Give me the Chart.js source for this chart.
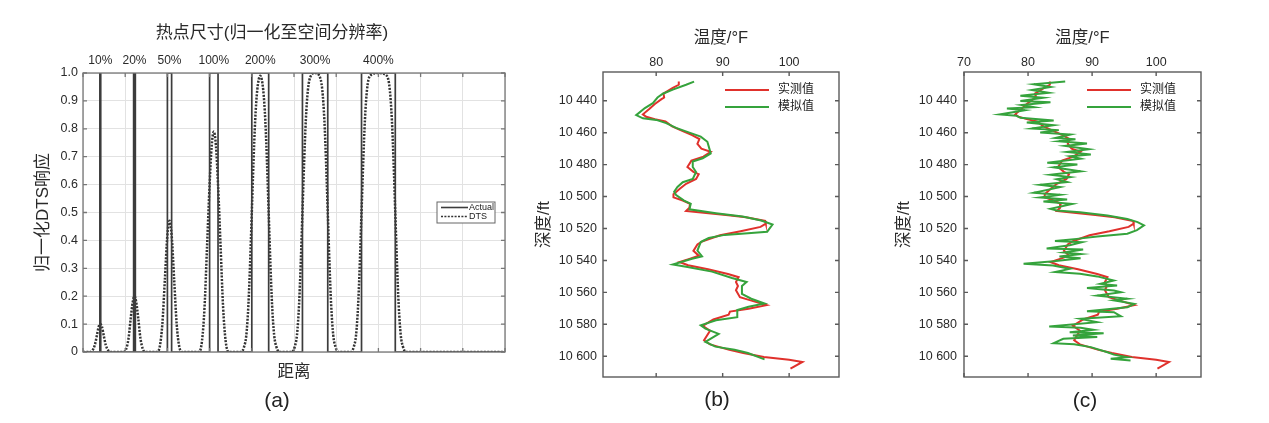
<!DOCTYPE html>
<html>
<head>
<meta charset="utf-8">
<script src="https://cdn.jsdelivr.net/npm/chart.js@4.4.1/dist/chart.umd.min.js"></script>
<style>
  html, body { margin: 0; padding: 0; background: #fff; }
  #page { position: relative; width: 1269px; height: 423px; overflow: hidden; }
  .panel { position: absolute; top: 0; }
  .tag { position: absolute; transform: translate(-50%, -50%); font: 21px "Liberation Sans", "Noto Sans CJK SC", sans-serif; color: #222; }
</style>
</head>
<body>
<div id="page">
  <div class="panel" style="left:0px"><canvas id="chartA" width="544" height="423"></canvas></div>
  <div class="panel" style="left:530px"><canvas id="chartB" width="330" height="423"></canvas></div>
  <div class="panel" style="left:890px"><canvas id="chartC" width="379" height="423"></canvas></div>
  <div class="tag" style="left:277px; top:400px">(a)</div>
  <div class="tag" style="left:717px; top:399px">(b)</div>
  <div class="tag" style="left:1085px; top:400px">(c)</div>
</div>
<script>
// ===== データ (a) =====
const HOTSPOT_LABELS = ['10%', '20%', '50%', '100%', '200%', '300%', '400%'];
const HOTSPOT_CENTER = [0.41, 1.22, 2.05, 3.10, 4.20, 5.50, 7.00];
const HOTSPOT_LEFT   = [0.40, 1.20, 2.00, 3.00, 4.00, 5.20, 6.60];
const HOTSPOT_RIGHT  = [0.42, 1.24, 2.10, 3.20, 4.40, 5.80, 7.40];

const DTS_X = [0, 0.15, 0.22, 0.28, 0.33, 0.37, 0.41, 0.45, 0.49, 0.54, 0.60, 0.67,
  0.95, 1.02, 1.08, 1.13, 1.18, 1.22, 1.26, 1.31, 1.36, 1.42, 1.49,
  1.75, 1.82, 1.88, 1.94, 2.00, 2.05, 2.10, 2.16, 2.22, 2.28, 2.35,
  2.75, 2.82, 2.88, 2.94, 3.00, 3.05, 3.10, 3.15, 3.20, 3.26, 3.32, 3.38, 3.45,
  3.75, 3.82, 3.87, 3.92, 3.96, 4.00, 4.04, 4.08, 4.13, 4.20, 4.27, 4.32, 4.36, 4.40, 4.44, 4.48, 4.53, 4.58, 4.65,
  4.95, 5.02, 5.07, 5.12, 5.16, 5.20, 5.24, 5.28, 5.33, 5.40, 5.50, 5.60, 5.67, 5.72, 5.76, 5.80, 5.84, 5.88, 5.93, 5.98, 6.05,
  6.35, 6.42, 6.47, 6.52, 6.56, 6.60, 6.64, 6.68, 6.73, 6.80, 7.00, 7.20, 7.27, 7.32, 7.36, 7.40, 7.44, 7.48, 7.53, 7.58, 7.65,
  10];
const DTS_Y = [0, 0, 0.005, 0.025, 0.06, 0.09, 0.10, 0.09, 0.06, 0.025, 0.005, 0,
  0, 0.01, 0.05, 0.12, 0.18, 0.20, 0.18, 0.12, 0.05, 0.01, 0,
  0, 0.02, 0.10, 0.26, 0.42, 0.47, 0.42, 0.26, 0.10, 0.02, 0,
  0, 0.04, 0.16, 0.38, 0.60, 0.74, 0.79, 0.74, 0.60, 0.38, 0.16, 0.04, 0,
  0, 0.02, 0.06, 0.17, 0.32, 0.50, 0.68, 0.83, 0.94, 0.99, 0.94, 0.83, 0.68, 0.50, 0.32, 0.17, 0.06, 0.02, 0,
  0, 0.02, 0.06, 0.17, 0.32, 0.50, 0.68, 0.83, 0.94, 0.99, 1.00, 0.99, 0.94, 0.83, 0.68, 0.50, 0.32, 0.17, 0.06, 0.02, 0,
  0, 0.02, 0.06, 0.17, 0.32, 0.50, 0.68, 0.83, 0.94, 0.99, 1.00, 0.99, 0.94, 0.83, 0.68, 0.50, 0.32, 0.17, 0.06, 0.02, 0,
  0];

// ===== データ (b)(c) =====
const DEPTH_TICKS = [10440, 10460, 10480, 10500, 10520, 10540, 10560, 10580, 10600];
const TEMP_TICKS_B = [80, 90, 100];
const TEMP_TICKS_C = [70, 80, 90, 100];

// 実測値
const MEAS_DEPTH = [10428, 10430, 10432, 10435.5, 10438, 10439, 10442, 10445, 10448.5, 10450,
  10451.5, 10453, 10456, 10459, 10461.5, 10464, 10467, 10470, 10472, 10475,
  10477.5, 10481.5, 10484.5, 10486, 10489, 10492, 10495, 10498.5, 10500.5, 10502.5,
  10504.5, 10507, 10509, 10510.3, 10511.5, 10513, 10515.3, 10517, 10519, 10521.7,
  10524.2, 10528, 10530, 10534, 10537, 10539, 10541, 10543, 10545.5, 10548.5,
  10550.5, 10553.5, 10556, 10558.7, 10563, 10565, 10568, 10570.2, 10572, 10574,
  10577, 10581, 10584, 10590, 10592.6, 10596, 10598, 10600.5, 10602.2, 10603.6, 10607.8];
const MEAS_TEMP = [83.4, 83.4, 82.5, 81.1, 81.2, 80.8, 79.8, 79.0, 78.0, 78.5,
  79.8, 81.4, 82.4, 84.0, 85.4, 86.5, 86.2, 86.8, 88.2, 87.1,
  85.3, 84.7, 85.6, 86.4, 86.0, 84.5, 83.6, 82.6, 82.6, 84.0,
  85.1, 85.0, 84.5, 87.5, 90.5, 93.5, 96.4, 96.5, 95.7, 92.7,
  89.6, 87.0, 86.2, 85.6, 86.4, 85.0, 83.5, 84.8, 87.8, 90.8,
  92.4, 92.0, 92.3, 92.0, 92.6, 94.2, 96.6, 93.9, 91.1, 90.9,
  88.6, 87.0, 88.1, 87.2, 88.1, 91.0, 93.1, 96.2, 100.0, 102.0, 100.2];

// 模拟值 (b)
const SIM_B_DEPTH = [10428, 10430, 10433, 10435.6, 10438, 10441.5, 10444.6, 10449, 10451, 10452,
  10454, 10457, 10460, 10462.5, 10465.7, 10470, 10473, 10476, 10478, 10481.5,
  10484.6, 10489, 10491, 10494, 10497, 10499, 10502.5, 10504.6, 10508, 10510.4,
  10512.5, 10515, 10517.5, 10522, 10523, 10524, 10526, 10528.5, 10533.8, 10537.5,
  10539, 10542.5, 10544, 10547, 10551, 10553.5, 10556, 10561, 10564, 10567,
  10569, 10571, 10575.5, 10577.5, 10580.6, 10582.7, 10586, 10591, 10594, 10596, 10598, 10602];
const SIM_B_TEMP = [85.7, 84.5, 82.5, 81.0, 80.2, 79.5, 78.3, 77.0, 78.0, 80.0,
  81.5, 83.0, 85.0, 86.7, 87.7, 88.0, 88.2, 87.0, 85.5, 85.5,
  86.0, 85.5, 84.0, 83.2, 82.7, 83.0, 84.2, 85.2, 85.0, 89.0,
  93.0, 95.8, 97.5, 96.7, 93.8, 90.3, 87.9, 86.7, 86.2, 86.9,
  85.4, 82.5, 84.5, 88.4, 91.4, 93.6, 92.9, 92.9, 94.3, 96.3,
  93.9, 92.2, 92.2, 89.0, 86.7, 87.4, 89.4, 87.4, 88.9, 91.8, 93.8, 96.3];

// 模拟值 (c)
const SIM_C_DEPTH = [10428.0, 10429.7, 10431.4, 10433.3, 10435.0, 10436.8, 10438.1, 10440.2, 10441.0, 10442.7,
  10444.0, 10444.8, 10446.0, 10448.6, 10449.4, 10450.7, 10452.4, 10453.6, 10455.3, 10457.4,
  10458.4, 10459.9, 10461.2, 10463.3, 10464.1, 10465.4, 10466.8, 10468.3, 10470.4, 10472.1,
  10473.7, 10474.8, 10476.3, 10478.8, 10480.0, 10481.7, 10484.2, 10486.3, 10487.8, 10489.2,
  10490.9, 10492.6, 10494.1, 10497.6, 10498.9, 10500.6, 10501.8, 10503.1, 10504.6, 10507.7,
  10508.7, 10509.8, 10511.9, 10514.0, 10516.0, 10518.1, 10521.0, 10523.3, 10525.0, 10526.5,
  10527.8, 10528.6, 10530.5, 10532.5, 10533.2, 10535.0, 10536.0, 10537.5, 10538.6, 10540.5,
  10542.1, 10543.2, 10545.3, 10547.3, 10548.4, 10550.0, 10552.6, 10554.7, 10555.7, 10557.2,
  10558.8, 10559.9, 10562.0, 10564.0, 10565.0, 10567.2, 10569.3, 10571.8, 10572.4, 10575.0,
  10576.6, 10578.7, 10581.4, 10582.2, 10583.5, 10585.0, 10585.6, 10587.0, 10588.0, 10589.1,
  10591.8, 10592.5, 10594.3, 10597.5, 10599.0, 10600.6, 10601.6, 10602.7];
const SIM_C_TEMP = [85.8, 80.9, 83.5, 80.6, 83.2, 78.8, 82.4, 78.8, 83.5, 79.0,
  80.9, 76.7, 79.5, 75.6, 78.2, 78.8, 84.0, 79.8, 84.0, 80.6,
  84.8, 81.9, 86.6, 84.3, 87.4, 84.8, 89.2, 85.8, 89.5, 86.1,
  89.8, 86.6, 88.2, 83.0, 87.7, 84.0, 88.2, 83.5, 86.6, 84.5,
  86.1, 81.9, 85.0, 80.9, 85.0, 81.9, 86.1, 82.4, 86.9, 83.5,
  84.5, 88.1, 92.4, 95.5, 97.1, 98.1, 97.0, 95.5, 90.8, 87.6,
  84.2, 88.4, 86.5, 82.9, 88.6, 85.6, 88.2, 84.9, 88.2, 84.0,
  79.3, 83.9, 86.5, 84.2, 88.1, 90.8, 93.4, 91.3, 93.9, 89.2,
  93.4, 94.5, 90.8, 95.5, 93.4, 96.6, 95.5, 89.2, 93.4, 94.5,
  88.2, 90.8, 83.3, 88.2, 90.2, 86.5, 91.8, 87.0, 90.8, 85.5,
  84.0, 87.2, 89.8, 92.4, 93.4, 95.5, 92.9, 96.0];

// ===== 共通設定 =====
const FONT = '"Liberation Sans", "Noto Sans CJK SC", sans-serif';
Chart.defaults.font.family = FONT;
Chart.defaults.color = '#2a2a2a';
Chart.defaults.animation = false;

const RED = '#e0312c';
const GREEN = '#35a33c';

function pts(xs, ys) {
  return xs.map((x, i) => ({ x: x, y: ys[i] }));
}
function depthLabel(v) {
  const s = String(v);
  return s.slice(0, s.length - 3) + ' ' + s.slice(-3);
}

// 枠と内向きの目盛り (MATLAB 風)
const framePlugin = {
  id: 'frame',
  afterDatasetsDraw(chart, args, o) {
    const { ctx, chartArea: a } = chart;
    const xs = chart.scales[o.xScale];
    const ys = chart.scales[o.yScale];
    ctx.save();
    ctx.strokeStyle = o.color;
    ctx.lineWidth = o.width;
    ctx.strokeRect(a.left, a.top, a.right - a.left, a.bottom - a.top);
    ctx.beginPath();
    xs.ticks.forEach(t => {
      const p = xs.getPixelForValue(t.value);
      ctx.moveTo(p, a.top); ctx.lineTo(p, a.top + o.len);
      ctx.moveTo(p, a.bottom); ctx.lineTo(p, a.bottom - o.len);
    });
    ys.ticks.forEach(t => {
      const p = ys.getPixelForValue(t.value);
      ctx.moveTo(a.left, p); ctx.lineTo(a.left + o.len, p);
      ctx.moveTo(a.right, p); ctx.lineTo(a.right - o.len, p);
    });
    ctx.stroke();
    ctx.restore();
  }
};

// 凡例 (グラフ内)
const lineLegend = {
  id: 'lineLegend',
  afterDraw(chart, args, o) {
    const { ctx, chartArea: a } = chart;
    const x0 = a.right - o.right;
    const y0 = a.top + o.top;
    ctx.save();
    if (o.box) {
      ctx.strokeStyle = '#666';
      ctx.lineWidth = 1;
      ctx.fillStyle = '#fff';
      ctx.fillRect(x0, y0, o.boxW, o.boxH);
      ctx.strokeRect(x0, y0, o.boxW, o.boxH);
    }
    ctx.font = o.fontSize + 'px ' + FONT;
    ctx.textBaseline = 'middle';
    o.order.forEach((di, i) => {
      const ds = chart.data.datasets[di];
      const y = y0 + o.firstRow + i * o.rowGap;
      ctx.beginPath();
      ctx.strokeStyle = ds.borderColor;
      ctx.lineWidth = o.lineWidth || ds.borderWidth;
      ctx.setLineDash(o.dash ? (ds.borderDash || []) : []);
      ctx.moveTo(x0 + o.pad, y);
      ctx.lineTo(x0 + o.pad + o.lineLen, y);
      ctx.stroke();
      ctx.setLineDash([]);
      ctx.fillStyle = '#222';
      ctx.fillText(ds.label, x0 + o.pad + o.lineLen + o.gap, y);
    });
    ctx.restore();
  }
};

// ===== (a) =====
(function () {
  const actual = [{ x: 0, y: 0 }];
  HOTSPOT_LEFT.forEach((l, i) => {
    const r = HOTSPOT_RIGHT[i];
    actual.push({ x: l, y: 0 }, { x: l, y: 1 }, { x: r, y: 1 }, { x: r, y: 0 });
  });
  actual.push({ x: 10, y: 0 });

  new Chart(document.getElementById('chartA'), {
    type: 'scatter',
    data: {
      datasets: [
        { label: 'Actual', data: actual, showLine: true, borderColor: '#3c3c3c', borderWidth: 1.7,
          pointRadius: 0, tension: 0 },
        { label: 'DTS', data: pts(DTS_X, DTS_Y), showLine: true, borderColor: '#333', borderWidth: 2.5,
          borderDash: [2, 1.4], pointRadius: 0, cubicInterpolationMode: 'monotone' }
      ]
    },
    options: {
      responsive: false,
      layout: { padding: 0 },
      scales: {
        x: {
          type: 'linear', position: 'bottom', min: 0, max: 10,
          ticks: { display: false, stepSize: 1 },
          grid: { color: '#e2e2e2', drawTicks: false },
          border: { display: false },
          title: { display: true, text: '距离', font: { size: 16.5 }, color: '#2a2a2a', padding: { top: 0, bottom: 41 } },
          afterFit: s => { s.height = 71; }
        },
        x2: {
          type: 'linear', position: 'top', min: 0, max: 10,
          afterBuildTicks: s => { s.ticks = HOTSPOT_CENTER.map(v => ({ value: v })); },
          ticks: { autoSkip: false, maxRotation: 0, padding: 5, font: { size: 12 },
            callback: (v, i) => HOTSPOT_LABELS[i] },
          grid: { display: false, drawTicks: false },
          border: { display: false },
          afterFit: s => { s.height = 24.6; }
        },
        y: {
          type: 'linear', position: 'left', min: 0, max: 1,
          ticks: { stepSize: 0.1, padding: 5, font: { size: 12.5 },
            callback: v => (Math.abs(v) < 1e-9 ? '0' : Number(v).toFixed(1)) },
          grid: { color: '#e2e2e2', drawTicks: false },
          border: { display: false },
          title: { display: true, text: '归一化DTS响应', font: { size: 17 }, color: '#2a2a2a', padding: { top: 33, bottom: 0 } },
          afterFit: s => { s.width = 83; }
        },
        y2: {
          type: 'linear', position: 'right', min: 0, max: 1,
          ticks: { display: false },
          grid: { display: false, drawTicks: false },
          border: { display: false },
          afterFit: s => { s.width = 39; }
        }
      },
      plugins: {
        legend: { display: false },
        tooltip: { enabled: false },
        title: { display: true, text: '热点尺寸(归一化至空间分辨率)', font: { size: 17, weight: 'normal' },
          color: '#2a2a2a', padding: { top: 23, bottom: 5 } },
        frame: { xScale: 'x', yScale: 'y', color: '#777', width: 1.3, len: 4 },
        lineLegend: { order: [0, 1], right: 68, top: 129, box: true, boxW: 58, boxH: 21,
          firstRow: 5.5, rowGap: 9, pad: 4, lineLen: 27, gap: 1, fontSize: 9, lineWidth: 1.6, dash: true }
      }
    },
    plugins: [framePlugin, lineLegend]
  });
})();

// ===== (b)(c) =====
function depthChart(id, simDepth, simTemp, xMin, xMax, tempTicks, yWidth, rightPad, yLabelPad) {
  return new Chart(document.getElementById(id), {
    type: 'scatter',
    data: {
      datasets: [
        { label: '模拟值', data: pts(simTemp, simDepth), showLine: true, borderColor: GREEN,
          borderWidth: 2, pointRadius: 0, tension: 0 },
        { label: '实测值', data: pts(MEAS_TEMP, MEAS_DEPTH), showLine: true, borderColor: RED,
          borderWidth: 2, pointRadius: 0, tension: 0 }
      ]
    },
    options: {
      responsive: false,
      layout: { padding: { right: rightPad, bottom: 46, left: 0, top: 0 } },
      scales: {
        x: {
          type: 'linear', position: 'top', min: xMin, max: xMax,
          afterBuildTicks: s => { s.ticks = tempTicks.map(v => ({ value: v })); },
          ticks: { autoSkip: false, maxRotation: 0, padding: 2, font: { size: 12.5 } },
          grid: { display: false, drawTicks: false },
          border: { display: false },
          title: { display: true, text: '温度/°F', font: { size: 16.5 }, color: '#2a2a2a', padding: { top: 29, bottom: 0 } },
          afterFit: s => { s.height = 72; }
        },
        y: {
          type: 'linear', position: 'left', reverse: true, min: 10422, max: 10613,
          afterBuildTicks: s => { s.ticks = DEPTH_TICKS.map(v => ({ value: v })); },
          ticks: { autoSkip: false, padding: yLabelPad, font: { size: 12.5 }, callback: v => depthLabel(v) },
          grid: { display: false, drawTicks: false },
          border: { display: false },
          title: { display: true, text: '深度/ft', font: { size: 16.5 }, color: '#2a2a2a', padding: { top: 5, bottom: 0 } },
          afterFit: s => { s.width = yWidth; }
        }
      },
      plugins: {
        legend: { display: false },
        tooltip: { enabled: false },
        frame: { xScale: 'x', yScale: 'y', color: '#5a5a5a', width: 1.4, len: 4 },
        lineLegend: { order: [1, 0], right: 114, top: 0, box: false, firstRow: 18, rowGap: 17,
          pad: 0, lineLen: 44, gap: 9, fontSize: 12, dash: false }
      }
    },
    plugins: [framePlugin, lineLegend]
  });
}

depthChart('chartB', SIM_B_DEPTH, SIM_B_TEMP, 72, 107.5, TEMP_TICKS_B, 73, 21, 6);
depthChart('chartC', SIM_C_DEPTH, SIM_C_TEMP, 70, 107, TEMP_TICKS_C, 74, 68, 7);
</script>
</body>
</html>
